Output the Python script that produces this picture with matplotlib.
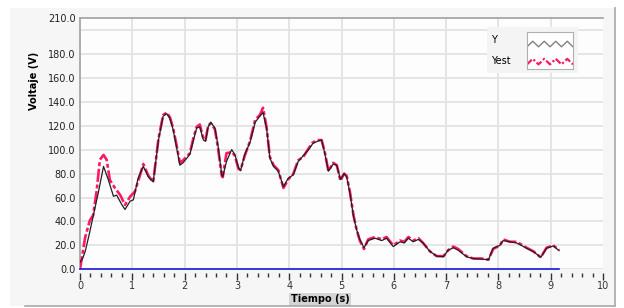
import numpy as np
import matplotlib
matplotlib.use('Agg')
import matplotlib.pyplot as plt
from matplotlib.ticker import MultipleLocator, FixedLocator
from matplotlib.patches import Rectangle

# Measured signal Y (black)
t_y = [0, 0.05, 0.10, 0.17, 0.25, 0.35, 0.45, 0.54, 0.64, 0.70, 0.80, 0.86, 0.96, 1.02,
       1.11, 1.21, 1.31, 1.40, 1.50, 1.59, 1.66, 1.72, 1.78, 1.85, 1.91, 1.97, 2.10, 2.17,
       2.23, 2.29, 2.36, 2.40, 2.45, 2.50, 2.58, 2.64, 2.71, 2.73, 2.80, 2.90, 2.96, 3.03,
       3.07, 3.15, 3.25, 3.35, 3.44, 3.50, 3.57, 3.63, 3.70, 3.79, 3.89, 3.98, 4.08, 4.17,
       4.27, 4.37, 4.45, 4.54, 4.62, 4.68, 4.75, 4.84, 4.91, 4.98, 5.05, 5.10, 5.16, 5.23,
       5.29, 5.35, 5.43, 5.51, 5.64, 5.77, 5.86, 5.99, 6.12, 6.20, 6.28, 6.37, 6.47, 6.56,
       6.69, 6.82, 6.95, 7.04, 7.14, 7.23, 7.39, 7.52, 7.68, 7.81, 7.90, 8.03, 8.09, 8.22,
       8.35, 8.54, 8.67, 8.81, 8.92, 9.05, 9.16]
v_y = [6, 9, 15, 28, 44, 64, 86, 75, 61, 62, 54, 50, 57, 58,
       76, 86, 77, 73, 108, 128, 130, 126, 117, 101, 87, 89, 96, 108,
       118, 119, 108, 107, 119, 123, 118, 103, 79, 77.5, 90, 100, 96, 85,
       82.5, 96, 106, 123, 128, 131, 117, 93, 86, 82, 69, 76, 79, 90,
       95, 100, 105, 107, 108, 97, 82, 88, 87, 75, 80, 77, 64, 44,
       33, 25, 18, 24, 26, 24, 26, 19, 23, 22, 26, 23, 25, 22,
       15, 11, 10.5, 16, 18, 16, 10.5, 9, 8.5, 8, 17.6, 20, 24, 23,
       22, 17.6, 14.7, 10, 17.6, 19.5, 15.6]

# Estimated signal Yest (pink)
t_est = [0, 0.03, 0.10, 0.19, 0.25, 0.32, 0.38, 0.45, 0.51, 0.57, 0.67, 0.77, 0.86, 0.96,
         1.05, 1.15, 1.21, 1.31, 1.40, 1.50, 1.59, 1.66, 1.72, 1.78, 1.85, 1.91, 1.97, 2.10,
         2.17, 2.23, 2.29, 2.36, 2.40, 2.45, 2.50, 2.58, 2.64, 2.71, 2.73, 2.80, 2.90, 2.96,
         3.03, 3.07, 3.15, 3.25, 3.35, 3.44, 3.50, 3.57, 3.63, 3.70, 3.79, 3.89, 3.98, 4.08,
         4.17, 4.27, 4.37, 4.45, 4.54, 4.62, 4.68, 4.75, 4.84, 4.91, 4.98, 5.05, 5.10, 5.16,
         5.23, 5.29, 5.35, 5.43, 5.51, 5.64, 5.77, 5.86, 5.99, 6.12, 6.20, 6.28, 6.37, 6.47,
         6.56, 6.69, 6.82, 6.95, 7.04, 7.14, 7.23, 7.39, 7.52, 7.68, 7.81, 7.90, 8.03, 8.09,
         8.22, 8.35, 8.54, 8.67, 8.81, 8.92, 9.05, 9.16]
v_est = [0, 8, 27, 41, 45, 66, 91.5, 95.6, 91.5, 74.7, 67.8, 62, 53.8, 60.8,
         65, 79, 88, 78, 73, 109, 129, 131, 127, 118, 103, 89, 91, 97,
         110, 119, 121, 109, 108, 120, 122, 117, 101, 78, 77, 97, 98, 95,
         84, 83, 95, 107, 125, 129, 135, 118, 94, 87, 83, 68, 75, 80,
         91, 94, 101, 106, 108, 108, 98, 82, 89, 87, 74, 80, 78, 65,
         45, 33, 24, 17, 25, 27, 25, 27, 20, 24, 23, 27, 24, 26,
         22, 15, 11, 11, 16, 19, 17, 11, 9, 9, 8, 17, 20, 25,
         23, 23, 18, 15, 10, 18, 20, 16]

# zero reference line (blue)
t_zero = [0, 9.16]
v_zero = [0, 0]

y_grid = [0, 20, 40, 60, 80, 100, 120, 140, 160, 180, 200]
y_labels = [0, 20, 40, 60, 80, 100, 120, 140, 160, 180, 210]

plt.rcParams['font.family'] = 'DejaVu Sans'
fig = plt.figure(figsize=(6.24, 3.08), dpi=100)
fig.patch.set_facecolor('white')

# panel background like the original front panel
W, H = 624, 308
panel = Rectangle((10 / W, 1 - 306 / H), (615 - 10) / W, (306 - 8) / H,
                  transform=fig.transFigure, facecolor='#f6f6f6', edgecolor='none', zorder=-5)
fig.patches.append(panel)
fig.add_artist(plt.Line2D([615 / W, 615 / W], [1 - 306 / H, 1 - 8 / H], color='#a8a8a8', lw=1.2))
fig.add_artist(plt.Line2D([25 / W, 615 / W], [1 - 305.5 / H, 1 - 305.5 / H], color='#a8a8a8', lw=1.2))

ax = fig.add_axes([80 / W, 1 - 269.3 / H, 523 / W, 251.3 / H])
ax.set_facecolor('#fdfdfd')
ax.set_xlim(0, 10)
ax.set_ylim(0, 210)

ax.plot(t_zero, v_zero, color='#1a1ad8', lw=1.2, clip_on=False, zorder=4)
ax.plot(t_est, v_est, color='#ff1a60', lw=1.9, ls=(0, (5, 1, 1.5, 1)), zorder=3)
ax.plot(t_y, v_y, color='#202020', lw=0.9, zorder=5)

# grid
ax.yaxis.set_major_locator(FixedLocator(y_labels))
for g in y_grid:
    ax.axhline(g, color='#e3e3e3', lw=1.3, zorder=0)
for g in range(1, 10):
    ax.axvline(g, color='#e3e3e3', lw=1.3, zorder=0)
ax.set_yticklabels([f'{v:.1f}' for v in y_labels])
ax.tick_params(axis='y', length=0, labelsize=7, colors='#222222', pad=3)

ax.xaxis.set_major_locator(MultipleLocator(1))
ax.xaxis.set_minor_locator(MultipleLocator(0.2))
# ticks sit a few pixels below the plot area
ax.spines['bottom'].set_position(('outward', 2.5))
ax.tick_params(axis='x', which='major', direction='out', length=5, width=1,
               colors='#333333', labelsize=7, pad=1)
ax.tick_params(axis='x', which='minor', direction='out', length=3, width=1, colors='#333333')

for s in ['right', 'bottom']:
    ax.spines[s].set_visible(False)
for s in ['top', 'left']:
    ax.spines[s].set_color('#a0a0a0')
    ax.spines[s].set_linewidth(1.2)
ax.spines['left'].set_bounds(0, 210)

ax.set_ylabel('Voltaje (V)', fontsize=7, fontweight='bold')
ax.yaxis.set_label_coords(-0.078, 0.75)
ax.set_xlabel('Tiempo (s)', fontsize=7, fontweight='bold',
              bbox=dict(facecolor='#d4d4d4', edgecolor='none', pad=1.2))
ax.xaxis.set_label_coords(0.459, -0.10)

# legend block (labels left, zigzag samples right)
leg_bg = Rectangle((487 / W, 1 - 73 / H), (578 - 487) / W, (73 - 27) / H,
                   transform=fig.transFigure, facecolor='#f4f4f4', edgecolor='none', zorder=6)
fig.patches.append(leg_bg)
fig.text(491 / W, 1 - 40 / H, 'Y', fontsize=7, va='center', ha='left', zorder=7)
fig.text(491 / W, 1 - 61 / H, 'Yest', fontsize=7, va='center', ha='left', zorder=7)
lax = fig.add_axes([527 / W, 1 - 69 / H, 46 / W, 37 / H], zorder=8)
lax.set_xlim(0, 4)
lax.set_ylim(0, 2)
zz_x = np.array([0, 0.5, 1, 1.5, 2, 2.5, 3, 3.5, 4])
zz_up = np.array([0, 1, 0, 1, 0, 1, 0, 1, 0])
lax.plot(zz_x, 1.35 + 0.3 * zz_up - 0.15, color='#808080', lw=1)
lax.plot(zz_x, 0.35 + 0.3 * zz_up - 0.1, color='#ff1a60', lw=1.6, ls=(0, (3, 1, 1, 1)))
lax.set_xticks([])
lax.set_yticks([])
lax.set_facecolor('white')
for s in lax.spines.values():
    s.set_color('#b0b0b0')

fig.savefig('out.png', dpi=100)
